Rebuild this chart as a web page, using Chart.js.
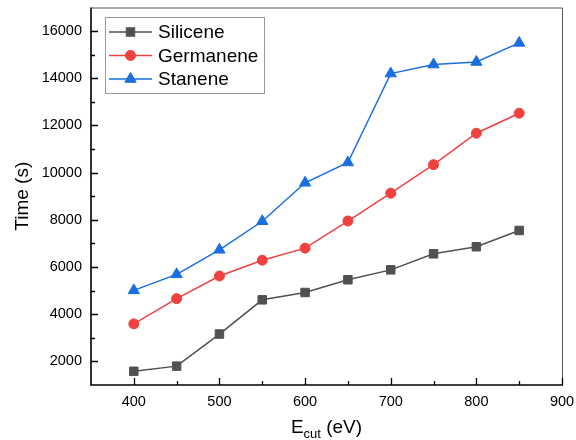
<!DOCTYPE html>
<html>
<head>
<meta charset="utf-8">
<script src="https://cdn.jsdelivr.net/npm/chart.js@4.4.1/dist/chart.umd.min.js"></script>
<style>
  html, body { margin: 0; padding: 0; background: #fff; }
  #wrap { width: 576px; height: 440px; }
</style>
</head>
<body>
<div id="wrap"><canvas id="chart" width="576" height="440"></canvas></div>
<script>
// cutoff energies (eV)
const energies = [400, 450, 500, 550, 600, 650, 700, 750, 800, 850];
// computation time (s)
const silicene = [1580, 1800, 3160, 4610, 4920, 5460, 5880, 6560, 6860, 7550];
const germanene = [3590, 4660, 5620, 6290, 6800, 7950, 9130, 10340, 11670, 12520];
const stanene = [5010, 5690, 6730, 7940, 9570, 10430, 14200, 14580, 14690, 15500];

const xTicks = [400, 500, 600, 700, 800, 900];
const xMinor = [450, 550, 650, 750, 850];
const yTicks = [2000, 4000, 6000, 8000, 10000, 12000, 14000, 16000];
const yMinor = [3000, 5000, 7000, 9000, 11000, 13000, 15000];

const FONT = "'Liberation Sans', Arial, sans-serif";

const toPoints = (vals) => vals.map((v, i) => ({ x: energies[i], y: v }));

const series = [
  { label: 'Silicene', values: silicene, color: '#515151', style: 'rect', radius: 6 },
  { label: 'Germanene', values: germanene, color: '#F14040', style: 'circle', radius: 5 },
  { label: 'Stanene', values: stanene, color: '#1A6FDF', style: 'triangle', radius: 6.5 }
];

// frame, inward ticks, x title with subscript, legend box
const framePlugin = {
  id: 'frame',
  afterDraw(chart) {
    const { ctx, chartArea: a, scales } = chart;
    const xs = scales.x, ys = scales.y;
    ctx.save();

    // top / right border
    ctx.strokeStyle = '#555';
    ctx.lineWidth = 1;
    ctx.beginPath();
    ctx.moveTo(a.left, a.top + 0.5);
    ctx.lineTo(a.right + 0.5, a.top + 0.5);
    ctx.lineTo(a.right + 0.5, a.bottom);
    ctx.stroke();

    // ticks
    ctx.strokeStyle = '#000';
    ctx.lineWidth = 1.3;
    ctx.beginPath();
    xTicks.forEach(v => { const px = Math.round(xs.getPixelForValue(v)) + 0.5; ctx.moveTo(px, a.bottom); ctx.lineTo(px, a.bottom - 7); });
    xMinor.forEach(v => { const px = Math.round(xs.getPixelForValue(v)) + 0.5; ctx.moveTo(px, a.bottom); ctx.lineTo(px, a.bottom - 4); });
    yTicks.forEach(v => { const py = Math.round(ys.getPixelForValue(v)) + 0.5; ctx.moveTo(a.left, py); ctx.lineTo(a.left + 7, py); });
    yMinor.forEach(v => { const py = Math.round(ys.getPixelForValue(v)) + 0.5; ctx.moveTo(a.left, py); ctx.lineTo(a.left + 4, py); });
    ctx.stroke();

    // left / bottom axes
    ctx.lineWidth = 1.6;
    ctx.beginPath();
    ctx.moveTo(a.left, a.top);
    ctx.lineTo(a.left, a.bottom);
    ctx.lineTo(a.right + 1, a.bottom);
    ctx.stroke();

    // x title: E_cut (eV)
    ctx.fillStyle = '#000';
    ctx.textBaseline = 'alphabetic';
    ctx.textAlign = 'left';
    const big = '19px ' + FONT, small = '13px ' + FONT;
    ctx.font = big; const wE = ctx.measureText('E').width; const wR = ctx.measureText(' (eV)').width;
    ctx.font = small; const wS = ctx.measureText('cut').width;
    const cx = (a.left + a.right) / 2;
    let x0 = cx - (wE + wS + wR) / 2;
    const base = 433;
    ctx.font = big; ctx.fillText('E', x0, base);
    ctx.font = small; ctx.fillText('cut', x0 + wE, base + 5);
    ctx.font = big; ctx.fillText(' (eV)', x0 + wE + wS, base);

    // legend
    const lx = 105.5, ly = 17.5, lw = 159, lh = 76;
    ctx.fillStyle = '#fff';
    ctx.fillRect(lx, ly, lw, lh);
    ctx.strokeStyle = '#999';
    ctx.lineWidth = 1;
    ctx.strokeRect(lx, ly, lw, lh);
    const rows = [32, 55.5, 79];
    chart.data.datasets.forEach((ds, i) => {
      const y = rows[i];
      ctx.strokeStyle = ds.borderColor;
      ctx.lineWidth = ds.borderWidth;
      ctx.beginPath();
      ctx.moveTo(109, y);
      ctx.lineTo(152, y);
      ctx.stroke();
      ctx.fillStyle = ds.pointBackgroundColor;
      ctx.strokeStyle = ds.pointBorderColor;
      ctx.lineWidth = 1;
      Chart.helpers.drawPoint(ctx, { pointStyle: ds.pointStyle, radius: ds.pointRadius, rotation: 0, borderWidth: 1 }, 130.5, y);
      ctx.fillStyle = '#000';
      ctx.font = '19px ' + FONT;
      ctx.textBaseline = 'middle';
      ctx.fillText(ds.label, 158, y + 1);
    });
    ctx.restore();
  }
};

new Chart(document.getElementById('chart'), {
  type: 'line',
  data: {
    datasets: series.map(s => ({
      label: s.label,
      data: toPoints(s.values),
      borderColor: s.color,
      backgroundColor: s.color,
      pointBackgroundColor: s.color,
      pointBorderColor: s.color,
      pointBorderWidth: 1,
      pointStyle: s.style,
      pointRadius: s.radius,
      borderWidth: 1.5,
      tension: 0
    }))
  },
  options: {
    responsive: false,
    animation: false,
    devicePixelRatio: 1,
    layout: { padding: { left: 0, right: 14, top: 6, bottom: 0 } },
    plugins: { legend: { display: false }, tooltip: { enabled: false } },
    scales: {
      x: {
        type: 'linear',
        min: 350,
        max: 900,
        grid: { display: false, drawTicks: false },
        border: { display: false },
        afterBuildTicks: (scale) => { scale.ticks = xTicks.map(v => ({ value: v })); },
        afterFit: (scale) => {
          scale.height = 55;
          scale.paddingLeft = 0;
          scale.paddingRight = 0;
        },
        ticks: { color: '#000', padding: 8, font: { family: FONT, size: 14.5 }, maxRotation: 0, callback: (v) => String(v) }
      },
      y: {
        type: 'linear',
        min: 1000,
        max: 17000,
        grid: { display: false, drawTicks: false },
        border: { display: false },
        afterBuildTicks: (scale) => { scale.ticks = yTicks.map(v => ({ value: v })); },
        afterFit: (scale) => {
          scale.width = 91;
          scale.paddingTop = 0;
          scale.paddingBottom = 0;
        },
        ticks: { color: '#000', padding: 9, font: { family: FONT, size: 14.5 }, callback: (v) => String(v) },
        title: { display: true, text: 'Time (s)', color: '#000', padding: { top: 11 }, font: { family: FONT, size: 19, weight: 'normal' } }
      }
    }
  },
  plugins: [framePlugin]
});
</script>
</body>
</html>
